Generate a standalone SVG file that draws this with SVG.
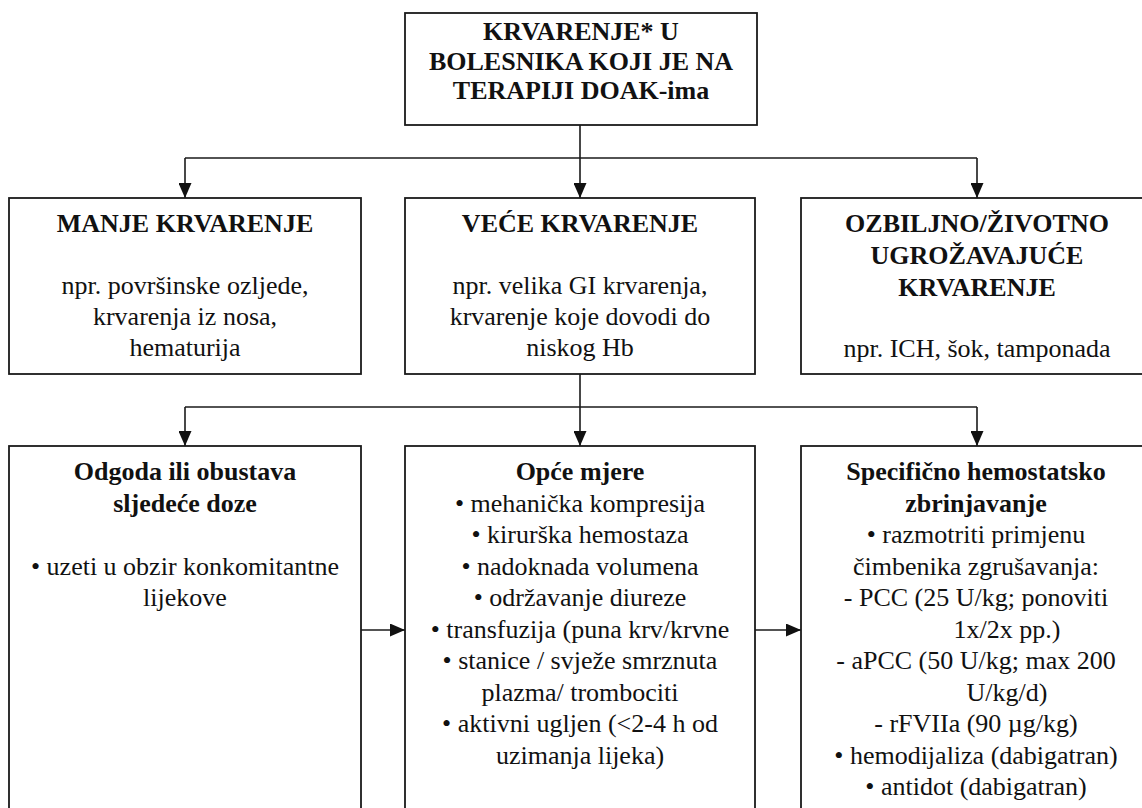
<svg xmlns="http://www.w3.org/2000/svg" width="1142" height="808" viewBox="0 0 1142 808">
<style>
.box{fill:#fff;stroke:#1a1a1a;stroke-width:1.8}
.t{font-family:"Liberation Serif","Times New Roman",serif;font-size:26px;fill:#111;text-anchor:middle}
.b{font-weight:bold}
.c{fill:none;stroke:#1a1a1a;stroke-width:1.6}
</style>
<defs>
<marker id="ah" markerUnits="userSpaceOnUse" markerWidth="15" markerHeight="13" refX="15" refY="6.5" orient="auto">
<path d="M0,0 L15,6.5 L0,13 z" fill="#111"/>
</marker>
</defs>
<rect width="1142" height="808" fill="#fff"/>
<g id="connectors">
<line class="c" x1="580" y1="125" x2="580" y2="198" marker-end="url(#ah)"/>
<polyline class="c" points="185,158 977,158"/>
<line class="c" x1="185" y1="158" x2="185" y2="198" marker-end="url(#ah)"/>
<line class="c" x1="977" y1="158" x2="977" y2="198" marker-end="url(#ah)"/>
<line class="c" x1="580" y1="374" x2="580" y2="446" marker-end="url(#ah)"/>
<polyline class="c" points="185,407 977,407"/>
<line class="c" x1="185" y1="407" x2="185" y2="446" marker-end="url(#ah)"/>
<line class="c" x1="977" y1="407" x2="977" y2="446" marker-end="url(#ah)"/>
<line class="c" x1="361" y1="630" x2="405" y2="630" marker-end="url(#ah)"/>
<line class="c" x1="755" y1="630" x2="801" y2="630" marker-end="url(#ah)"/>
</g>
<g id="top">
<rect class="box" x="405" y="13" width="352" height="112"/>
<text class="t b" x="581" y="40">KRVARENJE* U</text>
<text class="t b" x="581" y="70">BOLESNIKA KOJI JE NA</text>
<text class="t b" x="581" y="99">TERAPIJI DOAK-ima</text>
</g>
<g id="manje">
<rect class="box" x="9" y="198" width="352" height="176"/>
<text class="t b" x="185" y="232">MANJE KRVARENJE</text>
<text class="t" x="185" y="294">npr. površinske ozljede,</text>
<text class="t" x="185" y="325">krvarenja iz nosa,</text>
<text class="t" x="185" y="356">hematurija</text>
</g>
<g id="vece">
<rect class="box" x="405" y="198" width="350" height="176"/>
<text class="t b" x="580" y="232">VEĆE KRVARENJE</text>
<text class="t" x="580" y="294">npr. velika GI krvarenja,</text>
<text class="t" x="580" y="325">krvarenje koje dovodi do</text>
<text class="t" x="580" y="356">niskog Hb</text>
</g>
<g id="ozbiljno">
<rect class="box" x="801" y="198" width="360" height="176"/>
<text class="t b" x="977" y="232">OZBILJNO/ŽIVOTNO</text>
<text class="t b" x="977" y="264">UGROŽAVAJUĆE</text>
<text class="t b" x="977" y="296">KRVARENJE</text>
<text class="t" x="977" y="357">npr. ICH, šok, tamponada</text>
</g>
<g id="odgoda">
<rect class="box" x="9" y="446" width="352" height="400"/>
<text class="t b" x="185" y="480">Odgoda ili obustava</text>
<text class="t b" x="185" y="511.5">sljedeće doze</text>
<text class="t" x="185" y="574.5">• uzeti u obzir konkomitantne</text>
<text class="t" x="185" y="606">lijekove</text>
</g>
<g id="opce">
<rect class="box" x="405" y="446" width="350" height="400"/>
<text class="t b" x="580" y="480">Opće mjere</text>
<text class="t" x="580" y="511.5">• mehanička kompresija</text>
<text class="t" x="580" y="543">• kirurška hemostaza</text>
<text class="t" x="580" y="574.5">• nadoknada volumena</text>
<text class="t" x="580" y="606">• održavanje diureze</text>
<text class="t" x="580" y="637.5">• transfuzija (puna krv/krvne</text>
<text class="t" x="580" y="669">• stanice / svježe smrznuta</text>
<text class="t" x="580" y="700.5">plazma/ trombociti</text>
<text class="t" x="580" y="732">• aktivni ugljen (&lt;2-4 h od</text>
<text class="t" x="580" y="763.5">uzimanja lijeka)</text>
</g>
<g id="specificno">
<rect class="box" x="801" y="446" width="360" height="400"/>
<text class="t b" x="976" y="480">Specifično hemostatsko</text>
<text class="t b" x="976" y="511.5">zbrinjavanje</text>
<text class="t" x="976" y="543">• razmotriti primjenu</text>
<text class="t" x="976" y="574.5">čimbenika zgrušavanja:</text>
<text class="t" x="976" y="606">- PCC (25 U/kg; ponoviti</text>
<text class="t" x="1007" y="637.5">1x/2x pp.)</text>
<text class="t" x="976" y="669">- aPCC (50 U/kg; max 200</text>
<text class="t" x="1007" y="700.5">U/kg/d)</text>
<text class="t" x="976" y="732">- rFVIIa (90 µg/kg)</text>
<text class="t" x="976" y="763.5">• hemodijaliza (dabigatran)</text>
<text class="t" x="976" y="795">• antidot (dabigatran)</text>
</g>
</svg>
